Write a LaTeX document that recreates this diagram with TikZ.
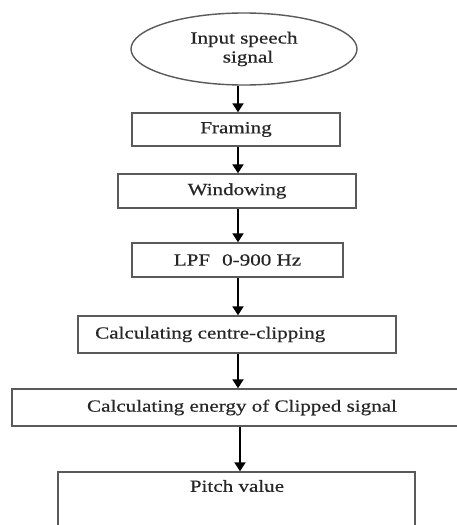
\documentclass[tikz,border=0pt]{standalone}
\usepackage{fontspec}
\setmainfont{Liberation Serif}[FakeStretch=1.24,FakeBold=0.5]
\usetikzlibrary{arrows.meta,shapes.geometric}
\definecolor{edge}{HTML}{5A5A5A}
\definecolor{ink}{HTML}{262626}
\tikzset{
  x=1pt,y=1pt,
  boxstyle/.style={draw=edge,line width=1.4pt,rectangle,inner sep=0pt,text=ink,font=\fontsize{17}{20}\selectfont},
  txtstyle/.style={inner sep=0pt,text=ink,font=\fontsize{17}{20}\selectfont},
  arr/.style={line width=2pt,draw=black,-{Triangle[length=9pt,width=11pt]}}
}
\begin{document}
\begin{tikzpicture}
\clip (0,0) rectangle (457,-525);
\fill[white] (0,0) rectangle (457,-525);
\coordinate (axis) at (238,0);
\node[boxstyle,ellipse,minimum width=226,minimum height=72,align=center] (in) at (244,-49) {Input speech\\[-1pt]\hspace*{8pt}signal};
\node[boxstyle,minimum width=208,minimum height=33] (framing) at (236,-129.5) {Framing};
\node[boxstyle,minimum width=238,minimum height=34] (window) at (237,-191) {Windowing};
\node[boxstyle,minimum width=211,minimum height=34] (lpf) at (237.5,-260) {LPF\hspace{12pt}0-900 Hz};
\node[boxstyle,minimum width=318,minimum height=37] (centre) at (237,-334.5) {};
\node[txtstyle,anchor=west] (centretxt) at (95,-334.5) {Calculating centre-clipping};
\node[boxstyle,minimum width=460,minimum height=37] (energy) at (242,-407.5) {Calculating energy of Clipped signal};
\node[boxstyle,minimum width=357,minimum height=70] (pitch) at (236.5,-507) {};
\node[txtstyle] (pitchtxt) at (237,-486) {Pitch value};
\draw[arr] (in.south -| axis) -- (framing.north -| axis);
\draw[arr] (framing.south -| axis) -- (window.north -| axis);
\draw[arr] (window.south -| axis) -- (lpf.north -| axis);
\draw[arr] (lpf.south -| axis) -- (centre.north -| axis);
\draw[arr] (centre.south -| axis) -- (energy.north -| axis);
\draw[arr] ([xshift=2pt]energy.south -| axis) -- ([xshift=2pt]pitch.north -| axis);
\end{tikzpicture}
\end{document}
